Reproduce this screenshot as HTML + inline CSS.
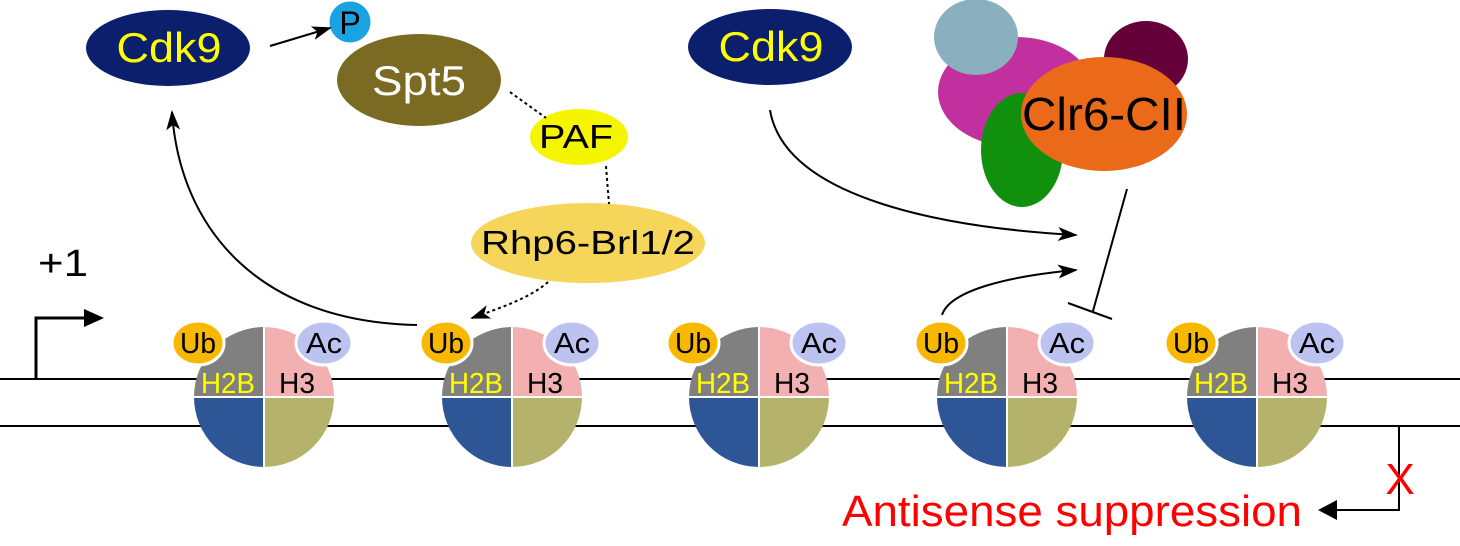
<!DOCTYPE html>
<html><head><style>html,body{margin:0;padding:0;background:#fff}svg{display:block}</style></head><body>
<svg width="1460" height="546" viewBox="0 0 1460 546" xmlns="http://www.w3.org/2000/svg" font-family="Liberation Sans, Arial, sans-serif">
<defs>
<marker id="ahb" markerWidth="20" markerHeight="14" refX="18" refY="7" orient="auto" markerUnits="userSpaceOnUse"><path d="M0,0 L20,7 L0,14 L5,7 z" fill="#000"/></marker>
<g id="nuc">
<path d="M0,0 L-70,0 A70,70 0 0 1 0,-70 Z" fill="#808080"/>
<path d="M0,0 L0,-70 A70,70 0 0 1 70,0 Z" fill="#f2b0b0"/>
<path d="M0,0 L-70,0 A70,70 0 0 0 0,70 Z" fill="#2e5596"/>
<path d="M0,0 L70,0 A70,70 0 0 1 0,70 Z" fill="#b5b26c"/>
<line x1="0" y1="-70" x2="0" y2="70" stroke="#fff" stroke-width="2"/>
<line x1="-70" y1="0" x2="70" y2="0" stroke="#fff" stroke-width="2"/>
<ellipse cx="-66" cy="-54" rx="26" ry="22" fill="#f9b800" stroke="#fff" stroke-width="3"/>
<text x="-66" y="-44" font-size="29" text-anchor="middle" textLength="36" lengthAdjust="spacingAndGlyphs">Ub</text>
<ellipse cx="60" cy="-54" rx="28" ry="22" fill="#bdc3f0" stroke="#fff" stroke-width="3"/>
<text x="60" y="-44" font-size="29" text-anchor="middle" textLength="36" lengthAdjust="spacingAndGlyphs">Ac</text>
<text x="-36" y="-4" font-size="29" fill="#ffff00" text-anchor="middle" textLength="54" lengthAdjust="spacingAndGlyphs">H2B</text>
<text x="33" y="-4" font-size="29" fill="#000" text-anchor="middle" textLength="36" lengthAdjust="spacingAndGlyphs">H3</text>
</g>
</defs>
<line x1="0" y1="379" x2="1460" y2="379" stroke="#000" stroke-width="2"/>
<line x1="0" y1="426" x2="1460" y2="426" stroke="#000" stroke-width="2"/>
<use href="#nuc" x="264" y="397"/>
<use href="#nuc" x="512" y="397"/>
<use href="#nuc" x="759" y="397"/>
<use href="#nuc" x="1007" y="397"/>
<use href="#nuc" x="1257" y="397"/>
<polyline points="36,379 36,318 92,318" fill="none" stroke="#000" stroke-width="3"/>
<path d="M84,309 L104,318 L84,327 z" fill="#000"/>
<text x="38" y="276" font-size="38" textLength="50" lengthAdjust="spacingAndGlyphs">+1</text>
<ellipse cx="168" cy="48" rx="82" ry="38" fill="#0c1f6c"/>
<text x="169" y="62" font-size="42" fill="#ffff00" text-anchor="middle" textLength="105" lengthAdjust="spacingAndGlyphs">Cdk9</text>
<ellipse cx="419" cy="80" rx="82" ry="46" fill="#7a6a22"/>
<text x="419" y="95" font-size="42" fill="#fff" text-anchor="middle" textLength="94" lengthAdjust="spacingAndGlyphs">Spt5</text>
<circle cx="350" cy="22" r="22" fill="#1aa3e0" stroke="#fff" stroke-width="3"/>
<text x="350" y="34" font-size="32" text-anchor="middle">P</text>
<line x1="270" y1="46" x2="330" y2="28" stroke="#000" stroke-width="2" marker-end="url(#ahb)"/>
<ellipse cx="579" cy="137" rx="49" ry="28" fill="#f5f500"/>
<text x="576" y="148" font-size="33" text-anchor="middle" textLength="74" lengthAdjust="spacingAndGlyphs">PAF</text>
<ellipse cx="588" cy="243" rx="117" ry="40" fill="#f5d55a"/>
<text x="588" y="254" font-size="33" text-anchor="middle" textLength="214" lengthAdjust="spacingAndGlyphs">Rhp6-Brl1/2</text>
<path d="M510,92 L546,118" stroke="#000" stroke-width="2" stroke-dasharray="3,3" fill="none"/>
<path d="M606,166 L609,204" stroke="#000" stroke-width="2" stroke-dasharray="3,3" fill="none"/>
<path d="M548,282 C530,298 500,308 472,318" stroke="#000" stroke-width="2" stroke-dasharray="3,3" fill="none" marker-end="url(#ahb)"/>
<path d="M417,325 C260,322 180,230 172,112" stroke="#000" stroke-width="2" fill="none" marker-end="url(#ahb)"/>
<ellipse cx="770" cy="47" rx="82" ry="38" fill="#0c1f6c"/>
<text x="771" y="61" font-size="42" fill="#ffff00" text-anchor="middle" textLength="105" lengthAdjust="spacingAndGlyphs">Cdk9</text>
<ellipse cx="1016" cy="92" rx="78" ry="55" fill="#c22f9f"/>
<ellipse cx="976" cy="37" rx="42" ry="38" fill="#8ab0c0"/>
<ellipse cx="1146" cy="59" rx="42" ry="38" fill="#650038"/>
<ellipse cx="1022" cy="150" rx="41" ry="57" fill="#10900c"/>
<ellipse cx="1104" cy="114" rx="83" ry="57" fill="#eb6a1a"/>
<text x="1104" y="130" font-size="46" text-anchor="middle" textLength="164" lengthAdjust="spacingAndGlyphs">Clr6-CII</text>
<path d="M770,110 C785,200 950,228 1076,235" stroke="#000" stroke-width="2" fill="none" marker-end="url(#ahb)"/>
<path d="M942,315 C950,290 1010,276 1076,270" stroke="#000" stroke-width="2" fill="none" marker-end="url(#ahb)"/>
<line x1="1127" y1="189" x2="1093" y2="311" stroke="#000" stroke-width="2"/>
<line x1="1068" y1="303" x2="1112" y2="319" stroke="#000" stroke-width="2"/>
<polyline points="1399,426 1399,510 1330,510" fill="none" stroke="#000" stroke-width="2"/>
<path d="M1337,500 L1318,510 L1337,520 z" fill="#000"/>
<text x="1400" y="494" font-size="44" fill="#ff0000" text-anchor="middle">X</text>
<text x="842" y="526" font-size="44" fill="#ff0000" textLength="460" lengthAdjust="spacingAndGlyphs">Antisense suppression</text>
</svg>
</body></html>
